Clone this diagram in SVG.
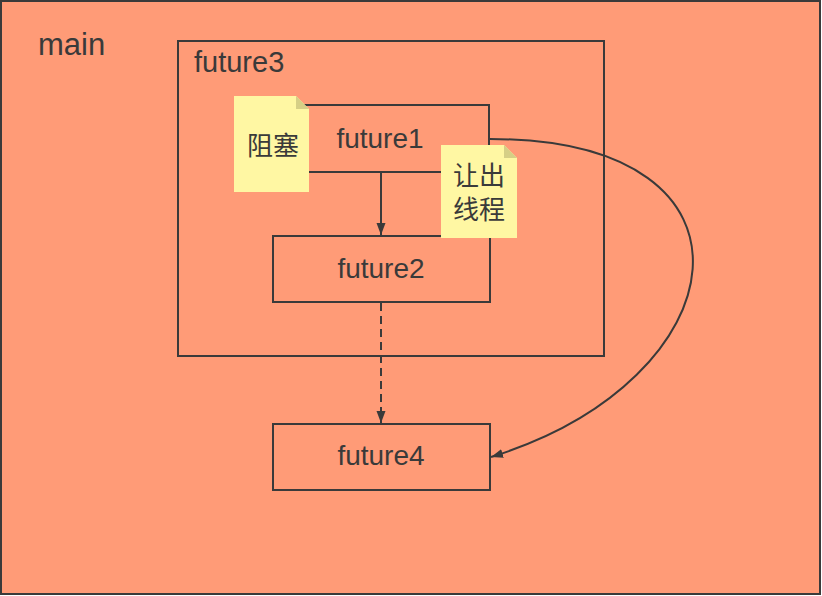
<svg xmlns="http://www.w3.org/2000/svg" width="822" height="596" viewBox="0 0 822 596">
<defs>
<style>
.box{fill:none;stroke:#3a3a3a;stroke-width:2}
.fill{fill:#FF9B77;stroke:#3a3a3a;stroke-width:2}
.t{font-family:"Liberation Sans","Noto Sans CJK SC",sans-serif;fill:#3a3a3a}
.c{font-family:"Noto Sans CJK SC",sans-serif;fill:#3a3a3a;font-size:26px}
.note{fill:#FFF7A3}
.fold{fill:#D6CF86}
.ln{fill:none;stroke:#3a3a3a;stroke-width:2}
</style>
<marker id="ah" viewBox="0 0 12 10" refX="12" refY="5" markerWidth="12" markerHeight="10" orient="auto" markerUnits="userSpaceOnUse">
<path d="M0,0.5 L12,5 L0,9.5 z" fill="#3a3a3a"/>
</marker>
</defs>
<g id="main">
<rect x="1" y="1" width="819" height="593" class="fill"/>
<text x="38" y="55" class="t" font-size="31">main</text>
</g>
<g id="future3">
<rect x="178" y="41" width="426" height="315" class="box"/>
<text x="194" y="72" class="t" font-size="29">future3</text>
</g>
<g id="future1">
<rect x="272" y="105" width="217" height="67" class="box"/>
<text x="380" y="148" class="t" font-size="28" text-anchor="middle">future1</text>
</g>
<g id="future2">
<rect x="273" y="236" width="217" height="66" class="box"/>
<text x="381" y="278" class="t" font-size="28" text-anchor="middle">future2</text>
</g>
<g id="future4">
<rect x="273" y="424" width="217" height="66" class="box"/>
<text x="381" y="465" class="t" font-size="28" text-anchor="middle">future4</text>
</g>
<g id="connectors">
<line x1="381" y1="172" x2="381" y2="235" class="ln" marker-end="url(#ah)"/>
<line x1="381" y1="303" x2="381" y2="423" class="ln" stroke-dasharray="8,5" marker-end="url(#ah)"/>
<path d="M490,139 C780,139 740,380 491,457" class="ln" marker-end="url(#ah)"/>
</g>
<g id="note-block">
<path d="M234,96 L296,96 L309,109 L309,192 L234,192 z" class="note"/>
<path d="M296,96 L309,109 L296,109 z" class="fold"/>
<text x="273" y="155" class="c" text-anchor="middle">阻塞</text>
</g>
<g id="note-yield">
<path d="M441,145 L504,145 L517,158 L517,238 L441,238 z" class="note"/>
<path d="M504,145 L517,158 L504,158 z" class="fold"/>
<text x="479" y="185" class="c" text-anchor="middle">让出</text>
<text x="479" y="219" class="c" text-anchor="middle">线程</text>
</g>
</svg>
